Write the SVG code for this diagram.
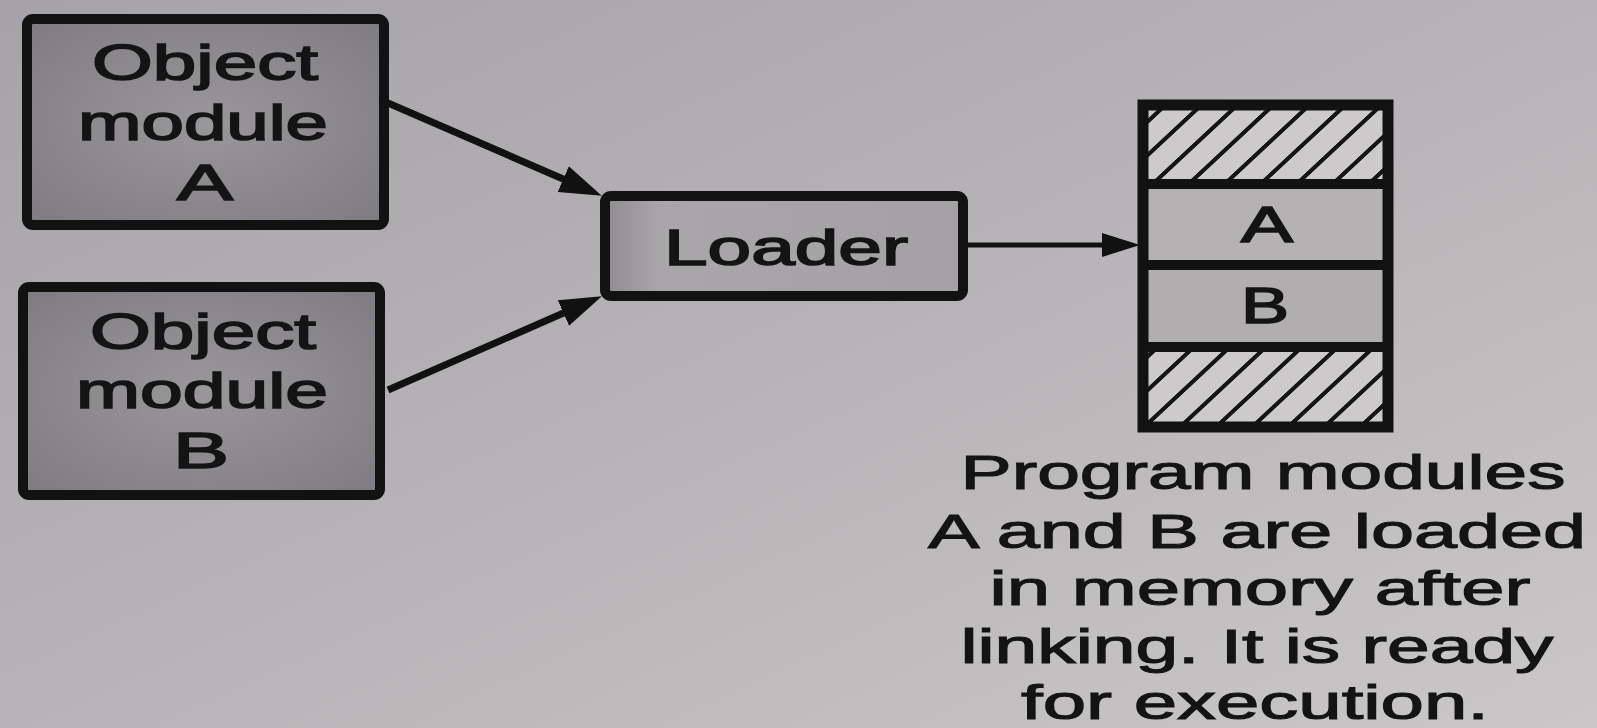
<svg xmlns="http://www.w3.org/2000/svg" width="1597" height="728" viewBox="0 0 1597 728">
<defs>
<linearGradient id="bg" x1="0" y1="0" x2="1" y2="1">
<stop offset="0" stop-color="#a6a3a8"/>
<stop offset="0.5" stop-color="#b7b4b7"/>
<stop offset="1" stop-color="#cac7c9"/>
</linearGradient>
<radialGradient id="objfill" cx="0.5" cy="0.5" r="0.7">
<stop offset="0" stop-color="#9a979b"/>
<stop offset="1" stop-color="#7f7c81"/>
</radialGradient>
<linearGradient id="loadfill" x1="0" y1="0" x2="1" y2="0">
<stop offset="0" stop-color="#8f8c90"/>
<stop offset="0.15" stop-color="#a9a6a9"/>
<stop offset="1" stop-color="#a4a1a4"/>
</linearGradient>
<pattern id="hatch" patternUnits="userSpaceOnUse" width="36" height="36" patternTransform="skewX(-47)">
<rect width="36" height="36" fill="#cdcacb"/>
<line x1="18" y1="-1" x2="18" y2="37" stroke="#151515" stroke-width="6"/>
</pattern>
<marker id="headBig" markerUnits="userSpaceOnUse" markerWidth="42" markerHeight="28" refX="20" refY="14" orient="auto">
<path d="M0,0 L42,14 L0,28 Z" fill="#111"/>
</marker>
<marker id="headSmall" markerUnits="userSpaceOnUse" markerWidth="38" markerHeight="24" refX="18" refY="12" orient="auto">
<path d="M0,0 L38,12 L0,24 Z" fill="#111"/>
</marker>
</defs>
<style>
.box{stroke:#121212;stroke-width:10;}
.t{font-family:"Liberation Sans",Arial,sans-serif;fill:#141414;stroke:#141414;text-anchor:middle;}
.tb{font-size:50px;stroke-width:1.6;}
.tc{font-size:48px;stroke-width:1.1;}
.conn{stroke:#111;fill:none;}
</style>
<rect width="1597" height="728" fill="url(#bg)"/>

<g id="connectors">
<line class="conn" x1="388" y1="103" x2="581.6" y2="187" stroke-width="7" marker-end="url(#headBig)"/>
<line class="conn" x1="388" y1="390" x2="581.7" y2="305" stroke-width="7" marker-end="url(#headBig)"/>
<line class="conn" x1="968" y1="245" x2="1120" y2="245" stroke-width="5" marker-end="url(#headSmall)"/>
</g>

<g id="objA">
<rect class="box" x="27" y="19" width="357" height="206" rx="6" fill="url(#objfill)"/>
<text class="t tb" x="205" y="80" textLength="226" lengthAdjust="spacingAndGlyphs">Object</text>
<text class="t tb" x="203" y="140" textLength="250" lengthAdjust="spacingAndGlyphs">module</text>
<text class="t tb" x="205" y="200" textLength="56" lengthAdjust="spacingAndGlyphs">A</text>
</g>

<g id="objB">
<rect class="box" x="23" y="287" width="357" height="208" rx="6" fill="url(#objfill)"/>
<text class="t tb" x="203" y="349" textLength="226" lengthAdjust="spacingAndGlyphs">Object</text>
<text class="t tb" x="202" y="408" textLength="252" lengthAdjust="spacingAndGlyphs">module</text>
<text class="t tb" x="201" y="468" textLength="56" lengthAdjust="spacingAndGlyphs">B</text>
</g>

<g id="loader">
<rect class="box" x="605" y="196" width="358" height="100" rx="6" fill="url(#loadfill)"/>
<text class="t tb" x="786" y="265" textLength="244" lengthAdjust="spacingAndGlyphs">Loader</text>
</g>

<g id="memory">
<rect x="1143" y="105" width="245" height="79" fill="url(#hatch)"/>
<rect x="1143" y="184" width="245" height="81" fill="#b5b2b4"/>
<rect x="1143" y="265" width="245" height="82" fill="#b1aeb0"/>
<rect x="1143" y="347" width="245" height="80" fill="url(#hatch)"/>
<line x1="1143" y1="184" x2="1388" y2="184" stroke="#121212" stroke-width="10"/>
<line x1="1143" y1="265" x2="1388" y2="265" stroke="#121212" stroke-width="10"/>
<line x1="1143" y1="347" x2="1388" y2="347" stroke="#121212" stroke-width="10"/>
<rect x="1143" y="105" width="245" height="322" fill="none" stroke="#121212" stroke-width="11"/>
<text class="t tb" x="1267" y="242" textLength="52" lengthAdjust="spacingAndGlyphs">A</text>
<text class="t tb" x="1265" y="323" textLength="48" lengthAdjust="spacingAndGlyphs">B</text>
</g>

<g id="caption">
<text class="t tc" x="1263" y="489" textLength="605" lengthAdjust="spacingAndGlyphs">Program modules</text>
<text class="t tc" x="1257" y="548" textLength="658" lengthAdjust="spacingAndGlyphs">A and B are loaded</text>
<text class="t tc" x="1260" y="605" textLength="541" lengthAdjust="spacingAndGlyphs">in memory after</text>
<text class="t tc" x="1257" y="663" textLength="593" lengthAdjust="spacingAndGlyphs">linking. It is ready</text>
<text class="t tc" x="1255" y="719" textLength="468" lengthAdjust="spacingAndGlyphs">for execution.</text>
</g>
</svg>
